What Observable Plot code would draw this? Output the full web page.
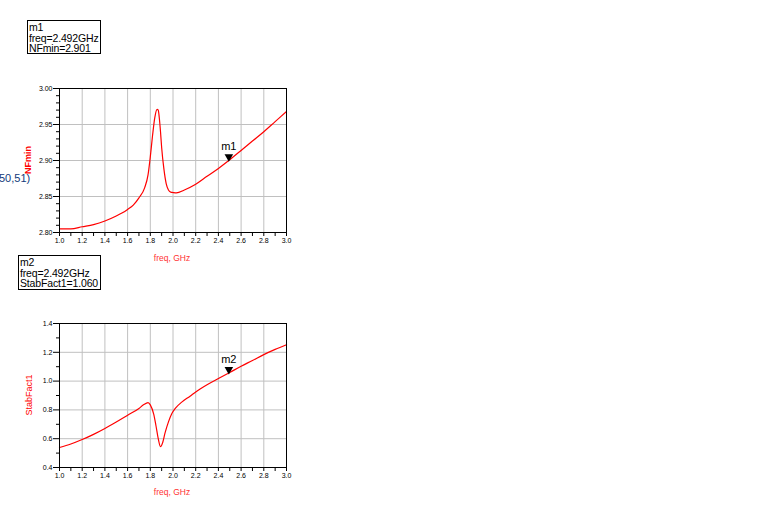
<!DOCTYPE html>
<html>
<head>
<meta charset="utf-8">
<script src="https://cdn.jsdelivr.net/npm/d3@7"></script>
<script src="https://cdn.jsdelivr.net/npm/@observablehq/plot@0.6"></script>
<style>
  body { margin: 0; background: #fff; }
  #root { position: relative; width: 768px; height: 525px; background: #fff; font-family: "Liberation Sans", Arial, sans-serif; overflow: hidden; }
  .mbox { position: absolute; border: 1px solid #000; font-size: 10.5px; line-height: 10.5px; padding: 1px 1px 0 1px; color: #000; box-sizing: border-box; white-space: nowrap; letter-spacing: -0.15px; }
  .ylab { position: absolute; color: #ff0000; font-size: 9px; transform: translate(-50%, -50%) rotate(-90deg); white-space: nowrap; }
  .xlab { position: absolute; color: #ff3333; font-size: 8.5px; transform: translate(-50%, -50%); white-space: nowrap; }
  .plot { position: absolute; left: 0; }
</style>
</head>
<body>
<div id="root">
  <div class="mbox" style="left:27px;top:20px;width:74px;height:34px;">m1<br>freq=2.492GHz<br>NFmin=2.901</div>
  <div class="mbox" style="left:18px;top:255px;width:83px;height:35px;">m2<br>freq=2.492GHz<br>StabFact1=1.060</div>
  <div style="position:absolute;left:-1px;top:172px;font-size:11px;color:#123a7a;">50,51)</div>
  <div class="ylab" style="left:28px;top:160px;font-weight:bold;">NFmin</div>
  <div class="ylab" style="left:29px;top:395px;">StabFact1</div>
  <div class="xlab" style="left:172px;top:258px;">freq, GHz</div>
  <div class="xlab" style="left:172px;top:492px;">freq, GHz</div>
  <div id="p1" class="plot" style="top:60px;"></div>
  <div id="p2" class="plot" style="top:295px;"></div>
</div>
<script>
// NFmin vs freq (GHz)
const freqNF = [1.00,1.10,1.20,1.30,1.40,1.50,1.55,1.60,1.65,1.70,1.75,1.78,1.80,1.82,1.84,1.86,1.87,1.88,1.89,1.90,1.92,1.94,1.96,1.98,2.00,2.03,2.10,2.20,2.30,2.40,2.50,2.60,2.70,2.80,2.90,3.00];
const nfmin  = [2.805,2.805,2.808,2.811,2.816,2.823,2.827,2.832,2.838,2.848,2.862,2.880,2.905,2.935,2.960,2.971,2.970,2.958,2.940,2.918,2.888,2.868,2.859,2.856,2.8555,2.855,2.859,2.867,2.878,2.889,2.901,2.914,2.927,2.940,2.954,2.968];
// StabFact1 vs freq (GHz)
const freqK = [1.00,1.10,1.20,1.30,1.40,1.50,1.60,1.70,1.74,1.78,1.80,1.83,1.85,1.87,1.89,1.91,1.93,1.96,1.99,2.02,2.08,2.15,2.20,2.30,2.40,2.50,2.60,2.70,2.80,2.90,3.00];
const stab  = [0.539,0.563,0.594,0.630,0.671,0.716,0.763,0.810,0.835,0.851,0.835,0.770,0.690,0.600,0.545,0.575,0.640,0.717,0.775,0.810,0.856,0.895,0.925,0.975,1.018,1.060,1.103,1.143,1.184,1.220,1.253];
// markers
const markers1 = [{name: "m1", x: 2.492, y: 2.901}];
const markers2 = [{name: "m2", x: 2.492, y: 1.060}];
// ticks
const xMajor = [1.0,1.2,1.4,1.6,1.8,2.0,2.2,2.4,2.6,2.8,3.0];
const xMinor = [1.1,1.3,1.5,1.7,1.9,2.1,2.3,2.5,2.7,2.9];
const y1Major = [2.80,2.85,2.90,2.95,3.00];
const y1Minor = [2.81,2.82,2.83,2.84,2.86,2.87,2.88,2.89,2.91,2.92,2.93,2.94,2.96,2.97,2.98,2.99];
const y2Major = [0.4,0.6,0.8,1.0,1.2,1.4];
const y2Minor = [0.5,0.7,0.9,1.1,1.3];

const nfData = freqNF.map((f, i) => ({f, v: nfmin[i]}));
const kData = freqK.map((f, i) => ({f, v: stab[i]}));

function makePlot(data, yDomain, yMajor, yMinor, yFmt, markers) {
  return Plot.plot({
    width: 300, height: 215,
    marginLeft: 59, marginRight: 14, marginTop: 28, marginBottom: 43,
    style: {fontFamily: "'Liberation Sans', Arial, sans-serif", background: "transparent"},
    x: {domain: [1, 3]},
    y: {domain: yDomain},
    marks: [
      Plot.gridX(xMajor, {stroke: "#c0c0c0", strokeOpacity: 1, strokeWidth: 1}),
      Plot.gridY(yMajor, {stroke: "#c0c0c0", strokeOpacity: 1, strokeWidth: 1}),
      Plot.axisX(xMinor, {tickSize: 4, tickFormat: () => "", stroke: "#000"}),
      Plot.axisX(xMajor, {tickSize: 4, tickPadding: 2, fontSize: 7, tickFormat: d3.format(".1f"), stroke: "#000", fill: "#000"}),
      Plot.axisY(yMinor, {tickSize: 3, tickFormat: () => "", stroke: "#000"}),
      Plot.axisY(yMajor, {tickSize: 6, tickPadding: 1, fontSize: 7, tickFormat: d3.format(yFmt), stroke: "#000", fill: "#000"}),
      Plot.line(data, {x: "f", y: "v", stroke: "#ff0000", strokeWidth: 1.2, curve: "monotone-x"}),
      Plot.frame({stroke: "#000", strokeWidth: 1}),
      Plot.dot(markers, {x: "x", y: "y", symbol: "triangle", rotate: 180, r: 3.2, dy: -3, fill: "#000", stroke: "none"}),
      Plot.text(markers, {x: "x", y: "y", text: "name", dy: -13, fontSize: 11, fill: "#000"})
    ]
  });
}

document.getElementById("p1").appendChild(makePlot(nfData, [2.80, 3.00], y1Major, y1Minor, ".2f", markers1));
document.getElementById("p2").appendChild(makePlot(kData, [0.4, 1.4], y2Major, y2Minor, ".1f", markers2));
</script>
</body>
</html>
